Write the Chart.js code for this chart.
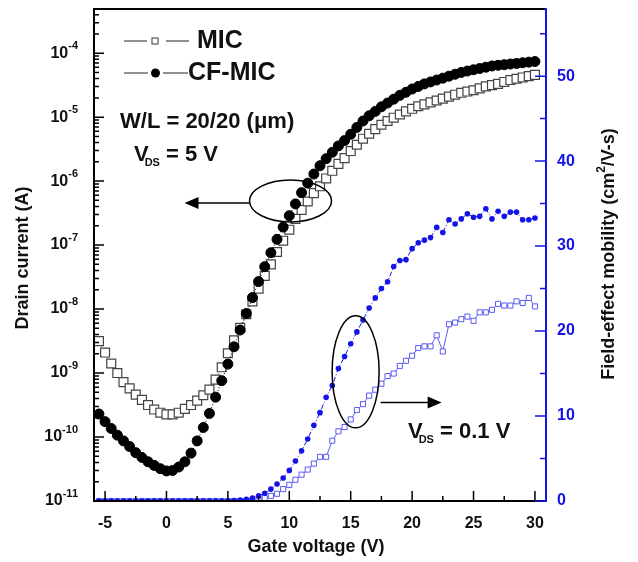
<!DOCTYPE html>
<html>
<head>
<meta charset="utf-8">
<title>Drain current and field-effect mobility vs gate voltage</title>
<script src="https://cdn.jsdelivr.net/npm/chart.js@4.4.0/dist/chart.umd.min.js"></script>
<style>
  html, body { margin: 0; padding: 0; background: #fff; }
  canvas { display: block; }
</style>
</head>
<body>
<canvas id="myChart" width="638" height="562"></canvas>
<script>
// Gate voltage sweep (V)
var gateV = [-5.5, -5, -4.5, -4, -3.5, -3, -2.5, -2, -1.5, -1, -0.5, 0,
  0.5, 1, 1.5, 2, 2.5, 3, 3.5, 4, 4.5, 5, 5.5, 6, 6.5, 7, 7.5, 8, 8.5, 9, 9.5, 10,
  10.5, 11, 11.5, 12, 12.5, 13, 13.5, 14, 14.5, 15, 15.5, 16, 16.5, 17, 17.5, 18,
  18.5, 19, 19.5, 20, 20.5, 21, 21.5, 22, 22.5, 23, 23.5, 24, 24.5, 25, 25.5, 26,
  26.5, 27, 27.5, 28, 28.5, 29, 29.5, 30];

// Drain current (A), VDS = 5 V
var micId = [3.16e-9, 2.09e-9, 1.41e-9, 1.0e-9, 7.2e-10, 5.75e-10, 4.6e-10, 3.8e-10, 3.16e-10, 2.69e-10, 2.4e-10, 2.26e-10,
  2.26e-10, 2.4e-10, 2.75e-10, 3.16e-10, 3.7e-10, 4.5e-10, 5.5e-10, 7.9e-10, 1.23e-9, 2.04e-9, 3.24e-9, 5.1e-9,
  8.3e-9, 1.32e-8, 2.09e-8, 3.3e-8, 5.0e-8, 7.8e-8, 1.17e-7, 1.74e-7, 2.57e-7, 3.55e-7, 4.8e-7, 6.5e-7,
  8.3e-7, 1.1e-6, 1.45e-6, 1.86e-6, 2.29e-6, 2.95e-6, 3.7e-6, 4.6e-6, 5.5e-6, 6.5e-6, 7.6e-6, 8.7e-6,
  9.8e-6, 1.1e-5, 1.23e-5, 1.35e-5, 1.48e-5, 1.58e-5, 1.7e-5, 1.82e-5, 1.95e-5, 2.09e-5, 2.24e-5, 2.4e-5,
  2.51e-5, 2.63e-5, 2.82e-5, 3.02e-5, 3.16e-5, 3.31e-5, 3.55e-5, 3.8e-5, 3.98e-5, 4.17e-5, 4.37e-5, 4.57e-5];
var cfId = [2.29e-10, 1.74e-10, 1.36e-10, 1.07e-10, 8.7e-11, 7.1e-11, 5.7e-11, 4.8e-11, 4.1e-11, 3.6e-11, 3.2e-11, 2.95e-11,
  3.0e-11, 3.4e-11, 4.1e-11, 5.6e-11, 8.7e-11, 1.41e-10, 2.34e-10, 4.2e-10, 7.6e-10, 1.38e-9, 2.57e-9, 4.7e-9,
  8.5e-9, 1.51e-8, 2.69e-8, 4.6e-8, 7.6e-8, 1.23e-7, 1.91e-7, 2.88e-7, 4.4e-7, 6.6e-7, 9.3e-7, 1.29e-6,
  1.74e-6, 2.24e-6, 2.82e-6, 3.55e-6, 4.3e-6, 5.4e-6, 6.9e-6, 8.7e-6, 1.05e-5, 1.23e-5, 1.45e-5, 1.66e-5,
  1.91e-5, 2.19e-5, 2.45e-5, 2.75e-5, 3.02e-5, 3.31e-5, 3.55e-5, 3.8e-5, 4.07e-5, 4.37e-5, 4.68e-5, 5.0e-5,
  5.25e-5, 5.5e-5, 5.75e-5, 6.03e-5, 6.3e-5, 6.46e-5, 6.6e-5, 6.76e-5, 6.9e-5, 7.08e-5, 7.24e-5, 7.4e-5];

// Field-effect mobility (cm2/V-s), VDS = 0.1 V
var micMob = [0, 0, 0, 0, 0, 0, 0, 0, 0, 0, 0, 0,
  0, 0, 0, 0, 0, 0, 0, 0, 0, 0, 0, 0, 0, 0,
  0.15, 0.35, 0.6, 0.85, 1.4, 1.9, 2.5, 3.1, 3.7, 4.4, 5.2, 5.2,
  7.1, 8.2, 8.7, 9.6, 10.7, 11.4, 12.4, 13.1, 13.8, 14.7, 15.0, 15.9,
  16.5, 17.1, 18.0, 18.2, 18.2, 19.5, 17.6, 20.8, 21.0, 21.4, 21.7, 21.2,
  22.2, 22.2, 22.5, 23.2, 23.0, 23.0, 23.5, 23.3, 23.9, 22.9];
var cfMob = [0, 0, 0, 0, 0, 0, 0, 0, 0, 0, 0, 0,
  0, 0, 0, 0, 0, 0, 0, 0, 0, 0, 0.05, 0.1, 0.2, 0.35,
  0.6, 0.9, 1.4, 2.0, 2.7, 3.6, 4.7, 5.9, 7.3, 8.9, 10.4, 12.2,
  13.6, 15.6, 17.0, 18.5, 19.9, 21.3, 22.7, 23.9, 25.0, 25.8, 27.6, 28.3,
  28.4, 29.7, 30.4, 30.7, 31.0, 32.2, 31.6, 33.1, 32.6, 33.2, 33.8, 33.4,
  33.5, 34.4, 33.2, 34.1, 33.5, 34.0, 34.0, 33.1, 33.1, 33.3];

// Tick labels
var xTicks = [-5, 0, 5, 10, 15, 20, 25, 30];
var idDecades = [-11, -10, -9, -8, -7, -6, -5, -4];
var mobTicks = [0, 10, 20, 30, 40, 50];

var FONT = '"Liberation Sans", Arial, sans-serif';
var BLUE = '#1414e6';

function pts(ys) {
    return gateV.map(function (v, i) { return { x: v, y: ys[i] }; });
}

// draws a row of text pieces (for super/subscripts)
function drawRuns(ctx, runs, x, y, align) {
    var w = 0;
    runs.forEach(function (r) {
        ctx.font = 'bold ' + r.size + 'px ' + FONT;
        r.w = ctx.measureText(r.text).width;
        w += r.w + (r.dx || 0);
    });
    var cx = align === 'right' ? x - w : (align === 'center' ? x - w / 2 : x);
    ctx.textAlign = 'left';
    ctx.textBaseline = 'middle';
    runs.forEach(function (r) {
        ctx.font = 'bold ' + r.size + 'px ' + FONT;
        cx += (r.dx || 0);
        ctx.fillText(r.text, cx, y + (r.dy || 0));
        cx += r.w;
    });
}

function arrow(ctx, x0, x1, y) {
    var dir = x1 > x0 ? 1 : -1;
    ctx.beginPath();
    ctx.moveTo(x0, y);
    ctx.lineTo(x1 - dir * 12, y);
    ctx.stroke();
    ctx.beginPath();
    ctx.moveTo(x1, y);
    ctx.lineTo(x1 - dir * 14, y - 6);
    ctx.lineTo(x1 - dir * 14, y + 6);
    ctx.closePath();
    ctx.fill();
}

// fixed box sizes so the plot area sits where the original one does
function fixBox(size, key) {
    return function (s) {
        s[key] = size;
        s.paddingTop = 0;
        s.paddingBottom = 0;
        s.paddingLeft = 0;
        s.paddingRight = 0;
    };
}

var decorations = {
    id: 'decorations',
    afterDatasetsDraw: function (chart) {
        var ctx = chart.ctx, a = chart.chartArea;
        var sx = chart.scales.x, sy = chart.scales.y, sm = chart.scales.y1;
        ctx.save();

        // frame
        ctx.lineWidth = 2;
        ctx.strokeStyle = '#000';
        ctx.beginPath();
        ctx.moveTo(a.right, a.top);
        ctx.lineTo(a.left, a.top);
        ctx.lineTo(a.left, a.bottom);
        ctx.lineTo(a.right, a.bottom);
        ctx.stroke();
        ctx.strokeStyle = BLUE;
        ctx.beginPath();
        ctx.moveTo(a.right, a.top - 1);
        ctx.lineTo(a.right, a.bottom + 1);
        ctx.stroke();

        // inward ticks
        ctx.lineWidth = 1.5;
        ctx.strokeStyle = '#000';
        ctx.beginPath();
        xTicks.forEach(function (v) {
            var px = sx.getPixelForValue(v);
            ctx.moveTo(px, a.bottom); ctx.lineTo(px, a.bottom - 10);
            var pm = sx.getPixelForValue(v + 2.5);
            if (pm < a.right - 2) { ctx.moveTo(pm, a.bottom); ctx.lineTo(pm, a.bottom - 5); }
            pm = sx.getPixelForValue(v - 2.5);
            if (pm > a.left + 2 && v === xTicks[0]) { ctx.moveTo(pm, a.bottom); ctx.lineTo(pm, a.bottom - 5); }
        });
        idDecades.forEach(function (d) {
            var py = sy.getPixelForValue(Math.pow(10, d));
            ctx.moveTo(a.left, py); ctx.lineTo(a.left + 10, py);
            for (var m = 2; m <= 9; m++) {
                var v = m * Math.pow(10, d);
                if (v > sy.max) break;
                var pm = sy.getPixelForValue(v);
                ctx.moveTo(a.left, pm); ctx.lineTo(a.left + 5, pm);
            }
        });
        ctx.stroke();
        ctx.strokeStyle = BLUE;
        ctx.beginPath();
        mobTicks.forEach(function (v) {
            var py = sm.getPixelForValue(v);
            ctx.moveTo(a.right, py); ctx.lineTo(a.right - 11, py);
            if (v + 5 < sm.max) {
                var pm = sm.getPixelForValue(v + 5);
                ctx.moveTo(a.right, pm); ctx.lineTo(a.right - 6, pm);
            }
        });
        ctx.stroke();

        // left tick labels 10^n
        ctx.fillStyle = '#111';
        idDecades.forEach(function (d) {
            var py = sy.getPixelForValue(Math.pow(10, d));
            drawRuns(ctx, [{ text: '10', size: 16 }, { text: String(d), size: 11, dy: -7 }], a.left - 16, py, 'right');
        });

        // axis titles
        ctx.font = 'bold 18px ' + FONT;
        ctx.textAlign = 'center';
        ctx.textBaseline = 'middle';
        ctx.fillText('Gate voltage (V)', 316, 547);
        ctx.save();
        ctx.translate(23, 258);
        ctx.rotate(-Math.PI / 2);
        ctx.fillText('Drain current (A)', 0, 0);
        ctx.restore();
        ctx.save();
        ctx.translate(609, 254);
        ctx.rotate(-Math.PI / 2);
        drawRuns(ctx, [{ text: 'Field-effect mobility (cm', size: 18 },
            { text: '2', size: 12, dy: -7 }, { text: '/V-s)', size: 18 }], 0, 0, 'center');
        ctx.restore();

        // legend
        ctx.strokeStyle = '#222';
        ctx.lineWidth = 1.2;
        ctx.beginPath();
        ctx.moveTo(124, 41); ctx.lineTo(147, 41);
        ctx.moveTo(166, 41); ctx.lineTo(189, 41);
        ctx.moveTo(124, 73); ctx.lineTo(148, 73);
        ctx.moveTo(163, 73); ctx.lineTo(188, 73);
        ctx.stroke();
        ctx.strokeStyle = '#555';
        ctx.fillStyle = '#fff';
        ctx.fillRect(152, 38, 6, 6);
        ctx.strokeRect(152, 38, 6, 6);
        ctx.fillStyle = '#000';
        ctx.beginPath();
        ctx.arc(155.5, 73, 4.5, 0, Math.PI * 2);
        ctx.fill();
        ctx.fillStyle = '#111';
        drawRuns(ctx, [{ text: 'MIC', size: 25 }], 197, 41, 'left');
        drawRuns(ctx, [{ text: 'CF-MIC', size: 25 }], 188, 73, 'left');

        // annotations
        drawRuns(ctx, [{ text: 'W/L = 20/20 (\u03bcm)', size: 22 }], 120, 122, 'left');
        drawRuns(ctx, [{ text: 'V', size: 22 }, { text: 'DS', size: 11, dy: 8, dx: -4 },
            { text: ' = 5 V', size: 22 }], 134, 155, 'left');
        drawRuns(ctx, [{ text: 'V', size: 22 }, { text: 'DS', size: 11, dy: 8, dx: -4 },
            { text: ' = 0.1 V', size: 22 }], 408, 432, 'left');

        ctx.strokeStyle = '#000';
        ctx.fillStyle = '#000';
        ctx.lineWidth = 1.5;
        var cx = sx.getPixelForValue(10.1), cy = sy.getPixelForValue(4.9e-7);
        ctx.beginPath();
        ctx.ellipse(cx, cy, 41, 21, 0, 0, Math.PI * 2);
        ctx.stroke();
        arrow(ctx, cx - 41, cx - 106, cy + 2);

        cx = sx.getPixelForValue(15.4);
        cy = sm.getPixelForValue(15.2);
        ctx.beginPath();
        ctx.ellipse(cx, cy, 23.5, 56, 0, 0, Math.PI * 2);
        ctx.stroke();
        arrow(ctx, cx + 25, cx + 86, sm.getPixelForValue(11.6));

        ctx.restore();
    }
};

var ctx = document.getElementById('myChart');
var chart = new Chart(ctx, {
    type: 'line',
    data: {
        datasets: [{
            label: 'CF-MIC',
            data: pts(cfId),
            yAxisID: 'y',
            order: 1,
            pointStyle: 'circle',
            pointRadius: 5,
            pointBackgroundColor: '#000',
            pointBorderColor: '#000',
            pointBorderWidth: 1,
            borderColor: '#000',
            borderWidth: 1,
            borderDash: [1, 2]
        }, {
            label: 'MIC',
            data: pts(micId),
            yAxisID: 'y',
            order: 2,
            pointStyle: 'rect',
            pointRadius: 6.3,
            pointBackgroundColor: '#fff',
            pointBorderColor: '#444',
            pointBorderWidth: 1.2,
            borderColor: '#444',
            borderWidth: 1,
            borderDash: [1, 2]
        }, {
            label: 'CF-MIC mobility',
            data: pts(cfMob),
            yAxisID: 'y1',
            order: 3,
            pointStyle: 'circle',
            pointRadius: 2.8,
            pointBackgroundColor: BLUE,
            pointBorderColor: BLUE,
            pointBorderWidth: 0,
            borderColor: BLUE,
            borderWidth: 1,
            borderDash: [5, 2, 1, 2]
        }, {
            label: 'MIC mobility',
            data: pts(micMob),
            yAxisID: 'y1',
            order: 4,
            pointStyle: 'rect',
            pointRadius: 3.6,
            pointBackgroundColor: '#fff',
            pointBorderColor: '#5a5af5',
            pointBorderWidth: 1,
            borderColor: '#5a5af5',
            borderWidth: 1
        }]
    },
    options: {
        responsive: false,
        animation: false,
        devicePixelRatio: 1,
        layout: { padding: { top: 9, left: 0, right: 0, bottom: 0 } },
        plugins: {
            legend: { display: false },
            tooltip: { enabled: false }
        },
        scales: {
            x: {
                type: 'linear',
                position: 'bottom',
                min: -5.9,
                max: 30.9,
                grid: { display: false, drawTicks: false },
                border: { display: false },
                afterBuildTicks: function (s) { s.ticks = xTicks.map(function (v) { return { value: v }; }); },
                ticks: {
                    padding: 13,
                    color: '#111',
                    maxRotation: 0,
                    autoSkip: false,
                    font: { family: FONT, size: 16, weight: 'bold' }
                },
                afterFit: fixBox(61, 'height')
            },
            y: {
                type: 'logarithmic',
                position: 'left',
                min: 1e-11,
                max: 4.9e-4,
                grid: { display: false, drawTicks: false },
                border: { display: false },
                ticks: { display: false },
                afterFit: fixBox(94, 'width')
            },
            y1: {
                type: 'linear',
                position: 'right',
                min: 0,
                max: 57.9,
                grid: { display: false, drawTicks: false },
                border: { display: false },
                afterBuildTicks: function (s) { s.ticks = mobTicks.map(function (v) { return { value: v }; }); },
                ticks: {
                    padding: 11,
                    color: BLUE,
                    font: { family: FONT, size: 16, weight: 'bold' }
                },
                afterFit: fixBox(92, 'width')
            }
        }
    },
    plugins: [decorations]
});
</script>
</body>
</html>
